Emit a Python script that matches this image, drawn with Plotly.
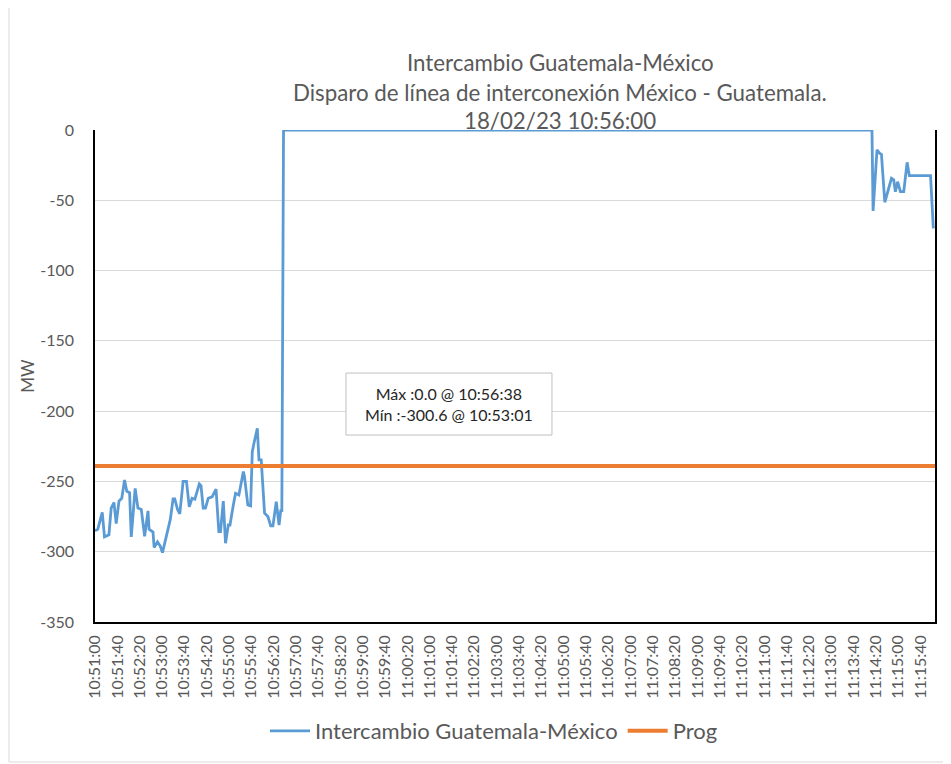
import plotly.graph_objects as go

DATE = "2023-02-18 "

# Intercambio Guatemala-México (MW)
times = [
    "10:51:00", "10:51:05", "10:51:13", "10:51:17", "10:51:25", "10:51:29", "10:51:34", "10:51:38",
    "10:51:43", "10:51:48", "10:51:53", "10:51:57", "10:52:02", "10:52:05", "10:52:12", "10:52:17",
    "10:52:23", "10:52:29", "10:52:35", "10:52:37", "10:52:44", "10:52:46", "10:52:52", "10:52:57",
    "10:53:01", "10:53:11", "10:53:15", "10:53:20", "10:53:23", "10:53:28", "10:53:32", "10:53:38",
    "10:53:44", "10:53:49", "10:53:54", "10:53:59", "10:54:07", "10:54:10", "10:54:14", "10:54:18",
    "10:54:23", "10:54:30", "10:54:37", "10:54:42", "10:54:45", "10:54:50", "10:54:54", "10:54:59",
    "10:55:02", "10:55:08", "10:55:12", "10:55:18", "10:55:26", "10:55:28", "10:55:34", "10:55:39",
    "10:55:42", "10:55:45", "10:55:51", "10:55:54", "10:55:58", "10:56:04", "10:56:10", "10:56:15",
    "10:56:19", "10:56:25", "10:56:30", "10:56:33", "10:56:35", "10:56:38",
    "11:14:13", "11:14:15", "11:14:22", "11:14:27", "11:14:30", "11:14:36", "11:14:40", "11:14:48",
    "11:14:52", "11:14:55", "11:14:59", "11:15:04", "11:15:10", "11:15:16", "11:15:20", "11:15:58",
    "11:16:03",
]
intercambio = [
    -285, -284, -272, -289.5, -288, -269, -265, -280,
    -264, -262, -249, -257, -258, -289.5, -255, -269,
    -270, -289, -271, -284, -286, -297, -293, -296,
    -300.6, -282, -277, -262.5, -262.5, -270, -273, -250,
    -250, -268, -262, -262.7, -251.8, -253, -269, -269,
    -262, -261, -255.5, -285.7, -285.7, -264, -294, -281,
    -281, -266.7, -258.4, -259.6, -243, -246.6, -266.7, -267.4,
    -228.8, -222.8, -212.2, -234.7, -234.7, -272.6, -275, -281.6,
    -281.6, -264.4, -281, -270.8, -270.8, 0.0,
    0.0, -57.6, -14.2, -16.6, -17.3, -51.4, -46.2, -34.4,
    -35.5, -43.9, -36.8, -43.9, -43.9, -23.0, -32.5, -32.5,
    -70.0,
]

prog_times = ["10:51:00", "11:16:06"]
prog = [-239, -239]

title_lines = [
    "Intercambio Guatemala-México",
    "Disparo de línea de interconexión México - Guatemala.",
    "18/02/23 10:56:00",
]
stats_text = "Máx :0.0 @ 10:56:38<br>Mín :-300.6 @ 10:53:01"

x_range = ["10:51:00", "11:16:06"]
y_ticks = [0, -50, -100, -150, -200, -250, -300, -350]
y_ticktext = ["0", "-50", "-100", "-150", "-200", "-250", "-300", "-350"]

FONT = "Lato"
GREY = "#595959"

# the page body has an 8px default margin, so the figure is sized to fit after it
W, H = 943, 756
L, T = 87, 122
PW, PH = 840, 492

fig = go.Figure()
fig.add_trace(go.Scatter(
    x=[DATE + t for t in times], y=intercambio, mode="lines",
    name="Intercambio Guatemala-México",
    line=dict(color="#5B9BD5", width=2.8),
))
fig.add_trace(go.Scatter(
    x=[DATE + t for t in prog_times], y=prog, mode="lines",
    name="Prog",
    line=dict(color="#ED7D31", width=4),
))

fig.update_layout(
    width=W, height=H,
    margin=dict(l=L, r=W - L - PW, t=T, b=H - T - PH, autoexpand=False),
    paper_bgcolor="white", plot_bgcolor="white",
    font=dict(family=FONT, color=GREY),
    showlegend=True,
    legend=dict(orientation="h", x=0.475, xanchor="center", y=-0.2215, yanchor="middle",
                font=dict(size=22, color=GREY), itemwidth=40, tracegroupgap=0),
    xaxis=dict(
        type="date",
        range=[DATE + x_range[0], DATE + x_range[1]],
        tick0=DATE + "10:51:00", dtick=40000,
        tickformat="%H:%M:%S", tickangle=-90,
        tickfont=dict(size=16, color=GREY),
        showgrid=False, showline=True, linecolor="black", linewidth=1.5,
        ticks="", ticklabelstandoff=5, zeroline=False,
    ),
    yaxis=dict(
        range=[-350, 0], tickvals=y_ticks, ticktext=y_ticktext,
        tickfont=dict(size=16, color=GREY),
        showgrid=True, gridcolor="#D9D9D9", gridwidth=1,
        showline=True, linecolor="black", linewidth=1.5, mirror=True,
        zeroline=False, ticks="", ticklabelstandoff=16,
        title=dict(text="MW", font=dict(size=17, color=GREY), standoff=1),
    ),
)

ys = [1.138, 1.077, 1.020]
for line, yv in zip(title_lines, ys):
    fig.add_annotation(text=line, xref="paper", yref="paper", x=0.554, y=yv,
                       showarrow=False, xanchor="center", yanchor="middle",
                       font=dict(size=22.3, color=GREY, family=FONT))

fig.add_shape(type="rect", xref="paper", yref="paper",
              x0=0.2988, x1=0.544, y0=0.380, y1=0.506,
              line=dict(color="#BFBFBF", width=1), fillcolor="white", layer="above")
fig.add_annotation(text=stats_text, xref="paper", yref="paper",
                   x=(0.2988 + 0.544) / 2, y=(0.380 + 0.506) / 2,
                   showarrow=False, xanchor="center", yanchor="middle", align="center",
                   font=dict(size=16, color="#262626", family=FONT))

# chart-area border (left and bottom visible), page x=9 and page y=762
bx = (9 - 8 - L) / PW
by = (T + PH - (762 - 8)) / PH
fig.add_shape(type="line", xref="paper", yref="paper",
              x0=bx, x1=bx, y0=(T + PH) / PH, y1=by,
              line=dict(color="#D9D9D9", width=1))
fig.add_shape(type="line", xref="paper", yref="paper",
              x0=bx, x1=(W - L) / PW, y0=by, y1=by,
              line=dict(color="#D9D9D9", width=1))

fig.write_html("out.html")
